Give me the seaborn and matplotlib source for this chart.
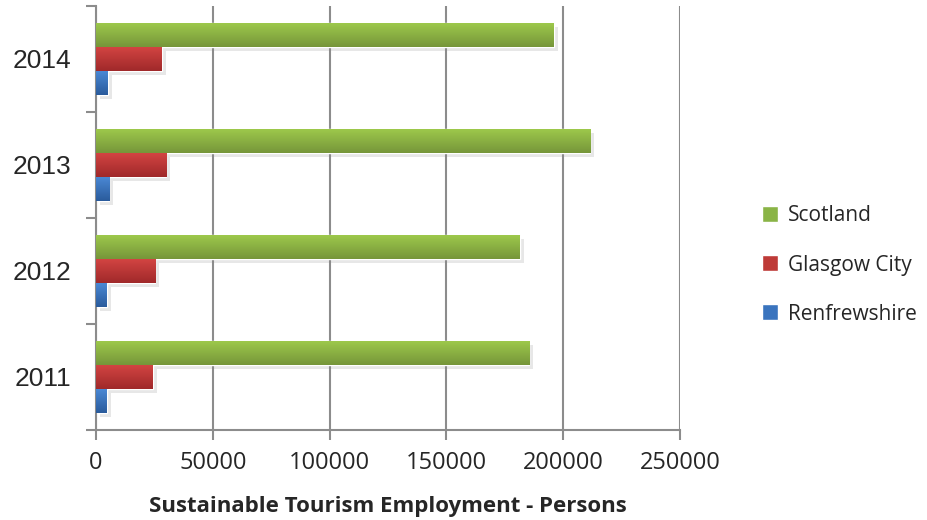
import numpy as np
import pandas as pd
import matplotlib
matplotlib.use("Agg")
import matplotlib.pyplot as plt
import matplotlib.patheffects as pe
from matplotlib.colors import to_rgb
import seaborn as sns

years = ["2014", "2013", "2012", "2011"]
series = ["Scotland", "Glasgow City", "Renfrewshire"]
scotland = [196000, 211500, 181500, 185500]
glasgow = [28100, 30000, 25300, 24400]
renfrewshire = [5000, 5600, 4600, 4600]
x_ticks = [0, 50000, 100000, 150000, 200000, 250000]
x_label = "Sustainable Tourism Employment - Persons"

mid_colors = ["#8AB446", "#BE3A37", "#3A74BE"]
grad_colors = [("#9DC84B", "#76963A"), ("#D24442", "#A0292A"), ("#4A88D4", "#2A5B9C")]

df = pd.DataFrame({
    "year": years * 3,
    "series": [series[0]] * 4 + [series[1]] * 4 + [series[2]] * 4,
    "value": scotland + glasgow + renfrewshire,
})

sns.set_style("white")
fig = plt.figure(figsize=(9.28, 5.2), dpi=100)
ax = fig.add_axes([96 / 928, 1 - 430 / 520, (680 - 96) / 928, (430 - 6) / 520])

sns.barplot(data=df, y="year", x="value", hue="series", order=years,
            hue_order=series, palette=mid_colors, orient="h", width=0.675,
            ax=ax, legend=False, saturation=1)

ax.set_xlim(0, 250000)
ax.set_ylim(3.5, -0.5)

# gradient fill + soft shadow for each bar
bars = [p for p in ax.patches]
for i, p in enumerate(bars):
    si = i // len(years)
    c_top, c_bot = grad_colors[si]
    t = np.linspace(0, 1, 50)[:, None]
    rgb = (1 - t) * np.array(to_rgb(c_top)) + t * np.array(to_rgb(c_bot))
    img = rgb[:, None, :]
    x0, y0, w, h = p.get_x(), p.get_y(), p.get_width(), p.get_height()
    ax.imshow(img, extent=(x0, x0 + w, y0 + h, y0), aspect="auto",
              origin="upper", zorder=3, interpolation="bilinear")
    p.set_path_effects([pe.SimplePatchShadow(offset=(3, -3), shadow_rgbFace="#888888", alpha=0.2),
                        pe.Normal()])
    p.set_zorder(2.5)

ax.set_xlim(0, 250000)
ax.set_ylim(3.5, -0.5)

grey = "#8C8C8C"
ax.set_xticks(x_ticks)
ax.set_xticklabels([str(v) for v in x_ticks], fontfamily="Open Sans", fontsize=17)
ax.xaxis.grid(True, color=grey, linewidth=1.5)
ax.set_axisbelow(True)
ax.tick_params(axis="x", direction="out", length=7, width=1.5, color=grey, pad=8, bottom=True)

ax.set_yticks(range(len(years)))
ax.set_yticklabels(years, fontfamily="Liberation Sans", fontsize=19)
ax.tick_params(axis="y", which="major", length=0, pad=18)
ax.set_yticks([-0.5, 0.5, 1.5, 2.5, 3.5], minor=True)
ax.tick_params(axis="y", which="minor", direction="out", length=7, width=1.5, color=grey, left=True)

for s in ["top", "right"]:
    ax.spines[s].set_visible(False)
for s in ["left", "bottom"]:
    ax.spines[s].set_color(grey)
    ax.spines[s].set_linewidth(1.5)

ax.set_ylabel("")
ax.set_xlabel(x_label, fontfamily="Open Sans", fontweight="bold", fontsize=16, labelpad=15)

handles = [plt.Rectangle((0, 0), 1, 1, facecolor=c) for c in mid_colors]
fig.legend(handles, series, loc="center left", bbox_to_anchor=(743 / 928, 1 - 265 / 520),
           frameon=False, prop={"family": "Open Sans", "size": 15},
           handlelength=0.8, handleheight=0.8, handletextpad=0.45, labelspacing=1.35)

fig.savefig("out.png", dpi=100)
